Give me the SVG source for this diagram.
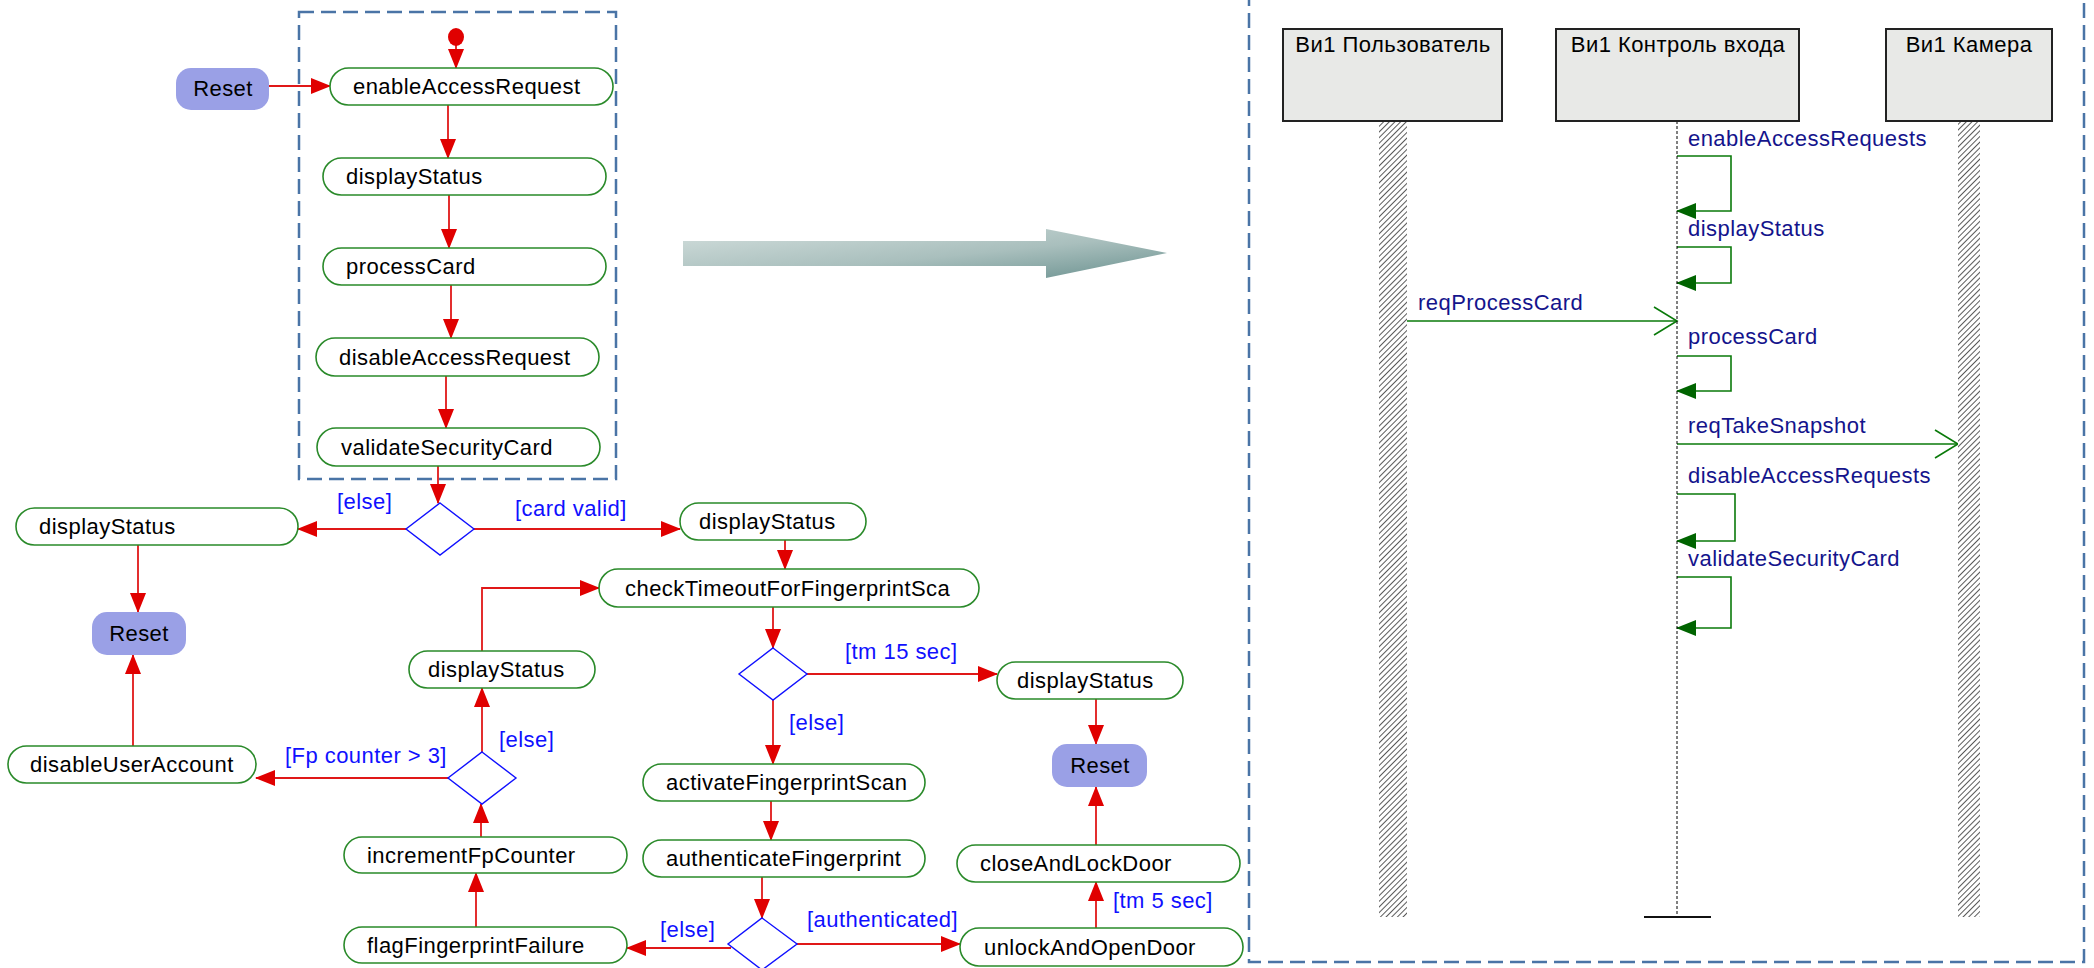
<svg xmlns="http://www.w3.org/2000/svg" width="2094" height="968" viewBox="0 0 2094 968">
<style>
.node{fill:#fff;stroke:#2a8a2a;stroke-width:1.6}
.reset{fill:#9aa0e6;stroke:none}
.dec{fill:#fff;stroke:#1010ff;stroke-width:1.4}
.t{font-family:"Liberation Sans",Arial,sans-serif;font-size:22px;letter-spacing:0.45px;fill:#000}
.g{font-family:"Liberation Sans",Arial,sans-serif;font-size:22px;letter-spacing:0.45px;fill:#1010ff}
.m{font-family:"Liberation Sans",Arial,sans-serif;font-size:22px;letter-spacing:0.45px;fill:#14148c}
.c{fill:none;stroke:#e01818;stroke-width:1.8;marker-end:url(#ah)}
.frame{fill:none;stroke:#4a74a6;stroke-width:2.5;stroke-dasharray:15 7}
.hdr{fill:#e8e9e7;stroke:#222;stroke-width:2}
.self{fill:none;stroke:#0a7a0a;stroke-width:1.6;marker-end:url(#gh)}
.call{fill:none;stroke:#0a7a0a;stroke-width:1.6;marker-end:url(#oh)}
</style>
<defs>
<marker id="ah" markerUnits="userSpaceOnUse" markerWidth="20" markerHeight="16" refX="19" refY="8" orient="auto" viewBox="0 0 20 16"><path d="M0,0 L20,8 L0,16 z" fill="#e00000"/></marker>
<marker id="gh" markerUnits="userSpaceOnUse" markerWidth="20" markerHeight="16" refX="19" refY="8" orient="auto" viewBox="0 0 20 16"><path d="M0,0 L20,8 L0,16 z" fill="#006400"/></marker>
<marker id="oh" markerUnits="userSpaceOnUse" markerWidth="26" markerHeight="30" refX="24" refY="15" orient="auto" viewBox="0 0 26 30"><path d="M1,1 L24,15 L1,29" fill="none" stroke="#0a7a0a" stroke-width="1.6"/></marker>
<linearGradient id="bigarrow" x1="0" y1="0" x2="1" y2="1"><stop offset="0" stop-color="#d2dedc"/><stop offset="0.55" stop-color="#a9bfbd"/><stop offset="1" stop-color="#6a918f"/></linearGradient>
<pattern id="hatch" width="4" height="4" patternUnits="userSpaceOnUse" patternTransform="rotate(45)"><rect width="4" height="4" fill="#fff"/><line x1="0" y1="0" x2="0" y2="4" stroke="#222" stroke-width="1.5"/></pattern>
</defs>
<rect width="2094" height="968" fill="#fff"/>

<!-- frames -->
<rect class="frame" x="299" y="12" width="317" height="467"/>
<rect class="frame" x="1249" y="-20" width="835" height="982"/>

<!-- big transition arrow -->
<polygon points="683,241 1046,241 1046,229 1167,253 1046,278 1046,266 683,266" fill="url(#bigarrow)"/>

<g id="connectors">
<path class="c" d="M456,45 V68"/>
<path class="c" d="M269,86 H330"/>
<path class="c" d="M448,105 V158"/>
<path class="c" d="M449,195 V248"/>
<path class="c" d="M451,285 V338"/>
<path class="c" d="M446,376 V428"/>
<path class="c" d="M438,466 V503"/>
<path class="c" d="M406,529 H298"/>
<path class="c" d="M474,529 H680"/>
<path class="c" d="M785,540 V569"/>
<path class="c" d="M138,545 V612"/>
<path class="c" d="M133,746 V655"/>
<path class="c" d="M448,778 H256"/>
<path class="c" d="M482,752 V688"/>
<path class="c" d="M482,651 V588 H599"/>
<path class="c" d="M481,837 V804"/>
<path class="c" d="M476,927 V873"/>
<path class="c" d="M773,607 V648"/>
<path class="c" d="M807,674 H997"/>
<path class="c" d="M1096,699 V744"/>
<path class="c" d="M1096,845 V787"/>
<path class="c" d="M1096,928 V882"/>
<path class="c" d="M773,700 V764"/>
<path class="c" d="M771,801 V840"/>
<path class="c" d="M762,877 V918"/>
<path class="c" d="M731,948 H627"/>
<path class="c" d="M797,944 H960"/>
<!-- sequence messages -->
<path class="self" d="M1677,156 H1731 V211 H1677"/>
<path class="self" d="M1677,247 H1731 V283 H1677"/>
<path class="call" d="M1407,321 H1677"/>
<path class="self" d="M1677,356 H1731 V391 H1677"/>
<path class="call" d="M1677,444 H1958"/>
<path class="self" d="M1677,494 H1735 V541 H1677"/>
<path class="self" d="M1677,577 H1731 V628 H1677"/>
</g>

<g id="guards">
<text class="g" x="337" y="509">[else]</text>
<text class="g" x="515" y="516">[card valid]</text>
<text class="g" x="285" y="763">[Fp counter &gt; 3]</text>
<text class="g" x="499" y="747">[else]</text>
<text class="g" x="845" y="659">[tm 15 sec]</text>
<text class="g" x="789" y="730">[else]</text>
<text class="g" x="660" y="937">[else]</text>
<text class="g" x="807" y="927">[authenticated]</text>
<text class="g" x="1113" y="908">[tm 5 sec]</text>
</g>

<g id="initial"><ellipse cx="456" cy="37" rx="8" ry="9" fill="#e00000"/></g>

<g id="reset1"><rect class="reset" x="176" y="68" width="93" height="42" rx="15"/><text class="t" x="223" y="96" text-anchor="middle">Reset</text></g>
<g id="enableAccessRequest"><rect class="node" x="330" y="68" width="283" height="37" rx="18.5"/><text class="t" x="353" y="94">enableAccessRequest</text></g>
<g id="displayStatus1"><rect class="node" x="323" y="158" width="283" height="37" rx="18.5"/><text class="t" x="346" y="184">displayStatus</text></g>
<g id="processCard"><rect class="node" x="323" y="248" width="283" height="37" rx="18.5"/><text class="t" x="346" y="274">processCard</text></g>
<g id="disableAccessRequest"><rect class="node" x="316" y="338" width="283" height="38" rx="19"/><text class="t" x="339" y="365">disableAccessRequest</text></g>
<g id="validateSecurityCard"><rect class="node" x="317" y="428" width="283" height="38" rx="19"/><text class="t" x="341" y="455">validateSecurityCard</text></g>

<g id="decision1"><polygon class="dec" points="440,503 474,529 440,555 406,529"/></g>
<g id="displayStatus2"><rect class="node" x="16" y="508" width="282" height="37" rx="18.5"/><text class="t" x="39" y="534">displayStatus</text></g>
<g id="reset2"><rect class="reset" x="92" y="612" width="94" height="43" rx="15"/><text class="t" x="139" y="641" text-anchor="middle">Reset</text></g>
<g id="disableUserAccount"><rect class="node" x="8" y="746" width="248" height="37" rx="18.5"/><text class="t" x="30" y="772">disableUserAccount</text></g>
<g id="decision2"><polygon class="dec" points="482,752 516,778 482,804 448,778"/></g>
<g id="displayStatus3"><rect class="node" x="409" y="651" width="186" height="37" rx="18.5"/><text class="t" x="428" y="677">displayStatus</text></g>
<g id="incrementFpCounter"><rect class="node" x="344" y="837" width="283" height="36" rx="18"/><text class="t" x="367" y="863">incrementFpCounter</text></g>
<g id="flagFingerprintFailure"><rect class="node" x="344" y="927" width="283" height="36" rx="18"/><text class="t" x="367" y="953">flagFingerprintFailure</text></g>

<g id="displayStatus4"><rect class="node" x="680" y="503" width="186" height="37" rx="18.5"/><text class="t" x="699" y="529">displayStatus</text></g>
<g id="checkTimeoutForFingerprintSca"><rect class="node" x="599" y="569" width="380" height="38" rx="19"/><text class="t" x="625" y="596">checkTimeoutForFingerprintSca</text></g>
<g id="decision3"><polygon class="dec" points="773,648 807,674 773,700 739,674"/></g>
<g id="displayStatus5"><rect class="node" x="997" y="662" width="186" height="37" rx="18.5"/><text class="t" x="1017" y="688">displayStatus</text></g>
<g id="reset3"><rect class="reset" x="1052" y="744" width="95" height="43" rx="15"/><text class="t" x="1100" y="773" text-anchor="middle">Reset</text></g>
<g id="activateFingerprintScan"><rect class="node" x="643" y="764" width="282" height="37" rx="18.5"/><text class="t" x="666" y="790">activateFingerprintScan</text></g>
<g id="authenticateFingerprint"><rect class="node" x="643" y="840" width="282" height="37" rx="18.5"/><text class="t" x="666" y="866">authenticateFingerprint</text></g>
<g id="decision4"><polygon class="dec" points="762,918 797,944 762,970 728,944"/></g>
<g id="closeAndLockDoor"><rect class="node" x="957" y="845" width="283" height="37" rx="18.5"/><text class="t" x="980" y="871">closeAndLockDoor</text></g>
<g id="unlockAndOpenDoor"><rect class="node" x="960" y="928" width="283" height="38" rx="19"/><text class="t" x="984" y="955">unlockAndOpenDoor</text></g>

<!-- sequence diagram -->
<g id="lifeline-user"><rect x="1379" y="121" width="28" height="796" fill="url(#hatch)"/><rect class="hdr" x="1283" y="29" width="219" height="92"/><text class="t" x="1393" y="52" text-anchor="middle">Ви1 Пользователь</text></g>
<g id="lifeline-control"><line x1="1677" y1="121" x2="1677" y2="917" stroke="#000" stroke-width="1" stroke-dasharray="3 2"/><line x1="1644" y1="917" x2="1711" y2="917" stroke="#111" stroke-width="2"/><rect class="hdr" x="1556" y="29" width="243" height="92"/><text class="t" x="1678" y="52" text-anchor="middle">Ви1 Контроль входа</text></g>
<g id="lifeline-camera"><rect x="1958" y="121" width="22" height="796" fill="url(#hatch)"/><rect class="hdr" x="1886" y="29" width="166" height="92"/><text class="t" x="1969" y="52" text-anchor="middle">Ви1 Камера</text></g>

<g id="messages">
<text class="m" x="1688" y="146">enableAccessRequests</text>
<text class="m" x="1688" y="236">displayStatus</text>
<text class="m" x="1418" y="310">reqProcessCard</text>
<text class="m" x="1688" y="344">processCard</text>
<text class="m" x="1688" y="433">reqTakeSnapshot</text>
<text class="m" x="1688" y="483">disableAccessRequests</text>
<text class="m" x="1688" y="566">validateSecurityCard</text>
</g>
</svg>
